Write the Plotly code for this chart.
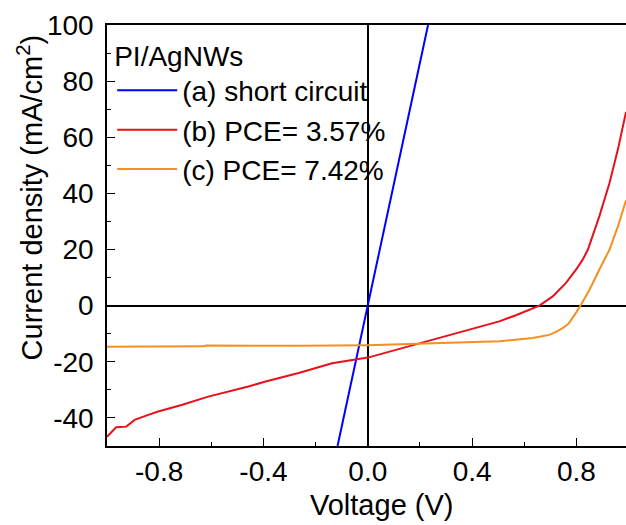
import plotly.graph_objects as go

# (a) short circuit
v_a = [-0.116, 0.231]
j_a = [-50.0, 100.0]

# (b) PCE = 3.57%
v_b = [-1.0, -0.965, -0.926, -0.894, -0.842, -0.804, -0.714, -0.612, -0.458, -0.392,
       -0.265, -0.188, -0.137, 0.0, 0.119, 0.247, 0.4, 0.504, 0.568, 0.61, 0.658,
       0.709, 0.735, 0.76, 0.799, 0.824, 0.844, 0.862, 0.888, 0.927, 0.959, 0.99]
j_b = [-46.7, -43.3, -43.1, -40.7, -38.9, -37.7, -35.4, -32.4, -28.8, -27.0,
       -24.0, -22.0, -20.5, -18.5, -15.5, -12.1, -8.3, -5.6, -3.4, -1.8, 0.0,
       3.3, 5.7, 8.1, 12.9, 16.4, 20.0, 25.0, 31.9, 43.8, 55.7, 69.0]

# (c) PCE = 7.42%
v_c = [-1.0, -0.633, -0.62, -0.265, 0.0, 0.2, 0.4, 0.504, 0.632, 0.696, 0.72, 0.747,
       0.77, 0.786, 0.80, 0.815, 0.85, 0.888, 0.927, 0.96, 0.99]
j_c = [-14.6, -14.5, -14.2, -14.3, -14.1, -13.6, -13.1, -12.7, -11.5, -10.4, -9.4, -8.0,
       -6.4, -4.4, -2.3, 0.0, 5.7, 12.9, 20.0, 28.5, 37.5]

names = ["(a) short circuit", "(b) PCE= 3.57%", "(c) PCE= 7.42%"]
colors = ["#0000FF", "#E8101A", "#F39021"]

x_tickvals = [-0.8, -0.4, 0.0, 0.4, 0.8]
x_ticktext = ["-0.8", "-0.4", "0.0", "0.4", "0.8"]
y_tickvals = [-40, -20, 0, 20, 40, 60, 80, 100]
y_ticktext = ["-40", "-20", "0", "20", "40", "60", "80", "100"]

FONT = "Liberation Sans, Arial, sans-serif"

fig = go.Figure()
for v, j, n, c in zip([v_a, v_b, v_c], [j_a, j_b, j_c], names, colors):
    fig.add_trace(go.Scatter(x=v, y=j, mode="lines", name=n,
                             line=dict(color=c, width=2)))

fig.update_layout(
    width=626, height=525,
    margin=dict(l=107, r=0, t=25, b=79),
    paper_bgcolor="white", plot_bgcolor="white",
    font=dict(family=FONT, size=28, color="black"),
    showlegend=True,
    legend=dict(
        x=0.01, y=0.99, xanchor="left", yanchor="top",
        bgcolor="rgba(0,0,0,0)", borderwidth=0,
        title=dict(text="PI/AgNWs", font=dict(size=28)),
        font=dict(size=28), itemwidth=60, tracegroupgap=0,
    ),
    annotations=[
        dict(text="Voltage (V)", xref="paper", yref="paper", x=0.528, y=-0.14,
             xanchor="center", yanchor="middle", showarrow=False,
             font=dict(size=29)),
        dict(text="Current density (mA/cm<sup>2</sup>)", xref="paper", yref="paper",
             x=-0.148, y=0.591, xanchor="center", yanchor="middle", textangle=-90,
             showarrow=False, font=dict(size=29)),
    ],
)

fig.update_xaxes(
    range=[-1.0, 0.99], showgrid=False,
    tickmode="array", tickvals=x_tickvals, ticktext=x_ticktext,
    ticks="inside", ticklen=8, tickwidth=1.2, tickcolor="black",
    minor=dict(ticks="inside", ticklen=4, dtick=0.2, tick0=0, tickcolor="black", showgrid=False),
    showline=True, linecolor="black", linewidth=1.5, mirror=True,
    zeroline=True, zerolinecolor="black", zerolinewidth=1.5,
    tickfont=dict(size=28),
)
fig.update_yaxes(
    range=[-50, 100], showgrid=False,
    tickmode="array", tickvals=y_tickvals, ticktext=y_ticktext,
    ticks="inside", ticklen=8, tickwidth=1.2, tickcolor="black",
    minor=dict(ticks="inside", ticklen=4, dtick=10, tick0=0, tickcolor="black", showgrid=False),
    showline=True, linecolor="black", linewidth=1.5, mirror=False,
    zeroline=True, zerolinecolor="black", zerolinewidth=1.5,
    tickfont=dict(size=28), ticklabelstandoff=6,
)

fig.write_html("out.html")
